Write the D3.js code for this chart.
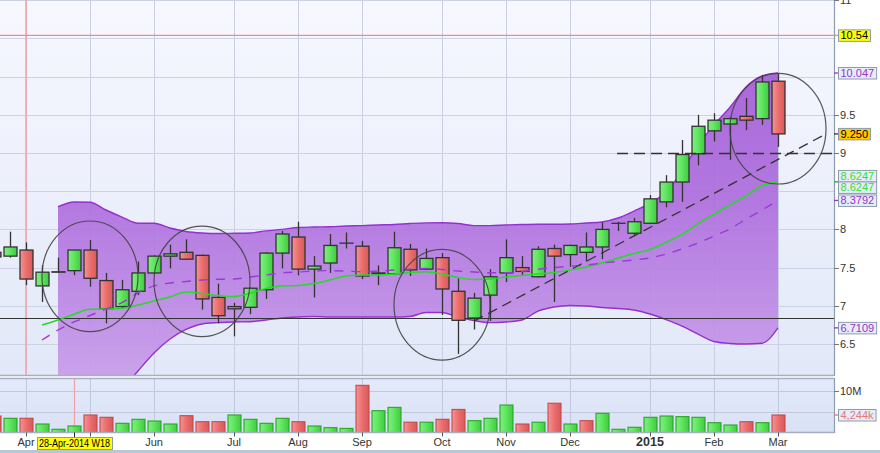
<!DOCTYPE html>
<html><head><meta charset="utf-8">
<script src="https://cdn.jsdelivr.net/npm/d3@7/dist/d3.min.js"></script>
<style>
html,body{margin:0;padding:0;background:#fff;}
svg{display:block;}
text{font-family:"Liberation Sans",Arial,Helvetica,sans-serif;}
</style></head><body>
<svg id="chart" width="880" height="453"></svg>
<script>
// ---------------- DATA ----------------
const weeks = ["2014-03-24","2014-03-31","2014-04-07","2014-04-14","2014-04-21","2014-04-28","2014-05-05","2014-05-12","2014-05-19","2014-05-26",
"2014-06-02","2014-06-09","2014-06-16","2014-06-23","2014-06-30","2014-07-07","2014-07-14","2014-07-21","2014-07-28","2014-08-04",
"2014-08-11","2014-08-18","2014-08-25","2014-09-01","2014-09-08","2014-09-15","2014-09-22","2014-09-29","2014-10-06","2014-10-13",
"2014-10-20","2014-10-27","2014-11-03","2014-11-10","2014-11-17","2014-11-24","2014-12-01","2014-12-08","2014-12-15","2014-12-22",
"2014-12-29","2015-01-05","2015-01-12","2015-01-19","2015-01-26","2015-02-02","2015-02-09","2015-02-16","2015-02-23","2015-03-02"];
const open  = [7.70,7.65,7.73,7.26,7.44,7.46,7.73,7.33,6.99,7.19, 7.43,7.65,7.70,7.66,7.11,6.99,6.98,7.21,7.69,7.90, 7.48,7.56,7.82,7.78,7.42,7.42,7.74,7.48,7.63,7.19, 6.84,7.14,7.43,7.50,7.38,7.75,7.67,7.70,7.77,8.08, 7.95,8.08,8.36,8.62,8.99,9.29,9.38,9.48,9.45,9.94];
const high  = [7.75,7.97,7.83,7.53,7.63,7.73,7.86,7.43,7.34,7.58, 7.66,7.80,7.87,7.67,7.29,7.04,7.24,7.70,7.98,8.10, 7.65,7.94,7.96,7.85,7.53,7.97,7.81,7.75,7.69,7.36, 7.17,7.48,7.87,7.65,7.78,7.80,7.80,7.96,8.09,8.10, 8.15,8.45,8.71,9.17,9.50,9.52,9.47,9.72,10.02,10.04];
const low   = [7.60,7.63,7.27,7.05,7.43,7.40,7.25,6.77,6.96,7.14, 7.41,7.49,7.60,6.95,6.77,6.60,6.89,7.09,7.49,7.40, 7.11,7.43,7.75,7.35,7.27,7.41,7.39,7.47,6.88,6.37, 6.69,6.80,7.31,7.39,7.37,7.05,7.51,7.58,7.61,7.98, 7.91,8.08,8.29,8.36,8.84,9.15,8.91,9.30,9.37,9.08];
const close = [7.64,7.77,7.35,7.44,7.445,7.73,7.36,6.96,7.21,7.43, 7.65,7.68,7.61,7.09,6.87,6.96,7.23,7.69,7.94,7.48, 7.52,7.79,7.82,7.39,7.43,7.76,7.47,7.62,7.22,6.81, 7.10,7.38,7.63,7.45,7.74,7.65,7.79,7.77,8.00,8.08, 8.10,8.40,8.62,8.98,9.35,9.43,9.45,9.43,9.93,9.25];
const volumeM = [4.0,3.45,3.45,2.06,0.78,1.58,4.25,3.69,2.23,3.2, 2.79,2.06,4.08,2.62,2.62,4.25,3.2,2.23,3.45,2.62, 1.58,1.17,0.99,11.45,5.3,6.1,2.5,2.5,3.2,5.6, 2.87,3.45,6.67,2.06,2.5,7.1,2.06,2.87,4.66,0.78, 1.27,3.69,4.0,3.85,3.69,2.38,1.82,2.62,2.38,4.244];
const maGreen = [null,null,null,6.749,6.814,6.89,6.954,6.958,6.967,7.01, 7.063,7.115,7.18,7.16,7.135,7.12,7.164,7.226,7.26,7.266, 7.292,7.338,7.39,7.403,7.403,7.416,7.436,7.446,7.416,7.37, 7.344,7.35,7.377,7.397,7.416,7.436,7.467,7.507,7.56,7.625, 7.685,7.735,7.83,7.935,8.075,8.20,8.32,8.44,8.575,8.6247];
const maPurple = [null,null,null,6.552,6.683,6.788,6.873,6.958,7.043,7.168, 7.26,7.298,7.318,7.338,7.347,7.35,7.377,7.403,7.43,7.442, 7.455,7.46,7.455,7.446,7.455,7.468,7.48,7.49,7.475,7.455, 7.442,7.433,7.433,7.45,7.478,7.50,7.52,7.533,7.56,7.58, 7.60,7.626,7.678,7.744,7.822,7.914,8.005,8.136,8.254,8.3792];
const bandUpper = [null,null,null,null,8.297,8.359,8.355,8.254,8.162,8.08, 8.08,8.018,7.973,7.953,7.946,7.949,7.953,7.98,8.0,8.025, 8.031,8.035,8.045,8.05,8.058,8.064,8.077,8.086,8.088,8.077, 8.05,8.05,8.058,8.064,8.067,8.067,8.07,8.084,8.097,8.149, 8.24,8.34,8.49,8.76,9.105,9.366,9.60,9.864,10.008,10.047];
const bandLower = [null,null,null,null,5.0,5.1,5.3,5.6,5.9,6.147, 6.382,6.565,6.69,6.762,6.78,6.788,6.792,6.814,6.84,6.853, 6.86,6.853,6.853,6.853,6.853,6.853,6.86,6.912,6.912,6.853, 6.807,6.78,6.788,6.814,6.93,6.984,7.004,6.997,6.978,6.965, 6.945,6.893,6.82,6.735,6.63,6.533,6.507,6.50,6.51,6.7109];

const monthTickDates  = ["2014-04-07","2014-05-05","2014-06-02","2014-07-07","2014-08-04","2014-09-01","2014-10-06","2014-11-03","2014-12-01","2015-01-05","2015-02-02","2015-03-02"];
const monthTickLabels = ["Apr","","Jun","Jul","Aug","Sep","Oct","Nov","Dec","2015","Feb","Mar"]; // May hidden under cursor label
const priceGridValues = [6.5,7,7.5,8,8.5,9,9.5,10,10.5,11];
const priceTickLabels = [6.5,7,7.5,8,9,9.5,11];
const volumeGridValues = [5,10];
const volumeTickLabels = ["10M"];

const supportLevel = 6.844;
const alertLevel = 10.54;
const targetLevel = 9.0, targetStart = "2014-12-22";
const trendStart = {d:"2014-10-20", v:6.80}, trendEnd = {d:"2015-03-23", v:9.25};
const circleDates  = ["2014-05-05","2014-06-23","2014-10-06","2015-03-02"];
const circlePrices = [7.386,7.32,7.014,9.318];
const circleHalfDays = 21, circleHalfPrice = 0.724;
const cursorMainDate = "2014-04-07", cursorVolDate = "2014-04-28", cursorLabel = "28-Apr-2014 W18";
const priceLabels = [
  {v:10.54,  t:"10.54",  bg:"#ffff00", fg:"#000",    tick:"#f08a8a"},
  {v:10.047, t:"10.047", bg:"#e7ecfa", fg:"#9933cc", tick:"#9933cc"},
  {v:9.25,   t:"9.250",  bg:"#ffc800", fg:"#000",    tick:"#333"},
  {v:8.6247, t:"8.6247", bg:"#e7ecfa", fg:"#33e033", tick:"#22cc22"},
  {v:8.6247, t:"8.6247", bg:"#e7ecfa", fg:"#33e033", tick:"#22cc22"},
  {v:8.3792, t:"8.3792", bg:"#e7ecfa", fg:"#9933cc", tick:"#9933cc"},
  {v:6.7109, t:"6.7109", bg:"#e7ecfa", fg:"#9933cc", tick:"#9933cc"}
];
const volumeLabel = {v:4.244, t:"4,244k", bg:"#e7ecfa", fg:"#e07878"};

// ---------------- CHART ----------------
const parse = d3.utcParse("%Y-%m-%d");
const dts = weeks.map(parse);
const svg = d3.select("#chart");
const plotR = 834, mainBot = 375, volTop = 378.5, volBot = 432.5;

const x = d3.scaleUtc().domain([new Date(Date.UTC(2014,2,26,15)), new Date(Date.UTC(2015,2,26,12))]).range([0, plotR]);
const y = d3.scaleLinear().domain([6.094, 11.003]).range([mainBot, 0]);
const vy = d3.scaleLinear().domain([0, 10]).range([volBot, 391.3]);

const defs = svg.append("defs");
function lg(id, x2, y2, stops){
  const g = defs.append("linearGradient").attr("id", id).attr("x1",0).attr("y1",0).attr("x2",x2).attr("y2",y2);
  stops.forEach(s => g.append("stop").attr("offset", s[0]).attr("stop-color", s[1]));
  return g;
}
lg("bgMain", 0, 1, [[0,"#f7f8ff"],[1,"#e2e8f8"]]);
lg("bgVol", 0, 1, [[0,"#e4eafa"],[1,"#d9e1f6"]]);
lg("gUp", 1, 0, [[0,"#7ef07e"],[0.45,"#62e562"],[1,"#3ccc3c"]]);
lg("gDn", 1, 0, [[0,"#f59494"],[0.45,"#ec7070"],[1,"#d85858"]]);
const bandGrad = defs.append("linearGradient").attr("id","gBand").attr("gradientUnits","userSpaceOnUse")
  .attr("x1",0).attr("y1",0).attr("x2",0).attr("y2",mainBot);
bandGrad.append("stop").attr("offset",0).attr("stop-color","#9c4fd2");
bandGrad.append("stop").attr("offset",0.55).attr("stop-color","#ad6cdd");
bandGrad.append("stop").attr("offset",1).attr("stop-color","#c79ae9");
defs.append("clipPath").attr("id","clipMain").append("rect").attr("x",0).attr("y",0).attr("width",plotR).attr("height",mainBot);
defs.append("clipPath").attr("id","clipVol").append("rect").attr("x",0).attr("y",volTop).attr("width",plotR).attr("height",volBot-volTop);

// backgrounds
svg.append("rect").attr("x",0).attr("y",0).attr("width",plotR).attr("height",mainBot).attr("fill","url(#bgMain)");
svg.append("rect").attr("x",0).attr("y",volTop).attr("width",plotR).attr("height",volBot-volTop).attr("fill","url(#bgVol)");

const main = svg.append("g").attr("clip-path","url(#clipMain)");
const vol = svg.append("g").attr("clip-path","url(#clipVol)");

// gridlines
const mDates = monthTickDates.map(parse);
main.selectAll("line.vg").data(mDates).join("line").attr("x1",d=>x(d)+0.5).attr("x2",d=>x(d)+0.5).attr("y1",0).attr("y2",mainBot)
  .attr("stroke","#c9cee2").attr("stroke-width",1);
main.selectAll("line.hg").data(priceGridValues).join("line").attr("x1",0).attr("x2",plotR).attr("y1",d=>Math.round(y(d))+0.5).attr("y2",d=>Math.round(y(d))+0.5)
  .attr("stroke","#cdd1e4").attr("stroke-width",1);
vol.selectAll("line.vg").data(mDates).join("line").attr("x1",d=>x(d)+0.5).attr("x2",d=>x(d)+0.5).attr("y1",volTop).attr("y2",volBot)
  .attr("stroke","#c2c9df").attr("stroke-width",1);
vol.selectAll("line.hg").data(volumeGridValues).join("line").attr("x1",0).attr("x2",plotR).attr("y1",d=>Math.round(vy(d))+0.5).attr("y2",d=>Math.round(vy(d))+0.5)
  .attr("stroke","#c2c9df").attr("stroke-width",1);

// cursor / alert lines
main.append("line").attr("x1",x(parse(cursorMainDate))).attr("x2",x(parse(cursorMainDate))).attr("y1",0).attr("y2",mainBot)
  .attr("stroke","#f3a0a4").attr("stroke-width",1.5);
main.append("line").attr("x1",0).attr("x2",plotR).attr("y1",y(alertLevel)).attr("y2",y(alertLevel))
  .attr("stroke","#f08a8a").attr("stroke-width",1.2);
vol.append("line").attr("x1",x(parse(cursorVolDate))+0.5).attr("x2",x(parse(cursorVolDate))+0.5).attr("y1",volTop).attr("y2",volBot)
  .attr("stroke","#f3a0a4").attr("stroke-width",1.2);

// band
const bandIdx = d3.range(dts.length).filter(i => bandUpper[i] != null);
main.append("path").datum(bandIdx)
  .attr("d", d3.area().x(i=>x(dts[i])).y0(i=>y(bandLower[i])).y1(i=>y(bandUpper[i])).curve(d3.curveMonotoneX))
  .attr("fill","url(#gBand)").attr("fill-opacity",0.9);
[bandUpper, bandLower].forEach(arr=>{
  main.append("path").datum(bandIdx)
    .attr("d", d3.line().x(i=>x(dts[i])).y(i=>y(arr[i])).curve(d3.curveMonotoneX))
    .attr("fill","none").attr("stroke","#9530d0").attr("stroke-width",1.4);
});

// support line
main.append("line").attr("x1",0).attr("x2",plotR).attr("y1",Math.round(y(supportLevel))+0.5).attr("y2",Math.round(y(supportLevel))+0.5)
  .attr("stroke","#333").attr("stroke-width",1.2);

// candles
const idx = d3.range(dts.length);
const cg = main.append("g");
cg.selectAll("line.wick").data(idx).join("line")
  .attr("x1",i=>x(dts[i])+0.5).attr("x2",i=>x(dts[i])+0.5)
  .attr("y1",i=>y(high[i])).attr("y2",i=>y(low[i]))
  .attr("stroke","#333").attr("stroke-width",1.3);
cg.selectAll("rect.body").data(idx).join("rect")
  .attr("x",i=>x(dts[i])-6)
  .attr("width",13)
  .attr("y",i=>y(Math.max(open[i],close[i])))
  .attr("height",i=>Math.max(0.01, Math.abs(y(open[i])-y(close[i]))))
  .attr("fill",i=>close[i]>=open[i]?"url(#gUp)":"url(#gDn)")
  .attr("stroke","#333").attr("stroke-width",1.3);

// moving averages
const gIdx = idx.filter(i=>maGreen[i]!=null);
main.append("path").datum(gIdx)
  .attr("d", d3.line().x(i=>x(dts[i])).y(i=>y(maGreen[i])).curve(d3.curveMonotoneX))
  .attr("fill","none").attr("stroke","#22dd22").attr("stroke-width",1.5);
const pIdx = idx.filter(i=>maPurple[i]!=null);
main.append("path").datum(pIdx)
  .attr("d", d3.line().x(i=>x(dts[i])).y(i=>y(maPurple[i])).curve(d3.curveMonotoneX))
  .attr("fill","none").attr("stroke","#9a3ad8").attr("stroke-width",1.4).attr("stroke-dasharray","9,8");

// trend line and target line
main.append("line").attr("x1",x(parse(trendStart.d))).attr("y1",y(trendStart.v)).attr("x2",x(parse(trendEnd.d))).attr("y2",y(trendEnd.v))
  .attr("stroke","#333").attr("stroke-width",1.3).attr("stroke-dasharray","10,6");
svg.append("line").attr("x1",x(parse(targetStart))-1).attr("x2",plotR+4).attr("y1",Math.round(y(targetLevel))+0.5).attr("y2",Math.round(y(targetLevel))+0.5)
  .attr("stroke","#333").attr("stroke-width",1.3).attr("stroke-dasharray","11,6");

// circles
const cDates = circleDates.map(parse);
main.selectAll("ellipse").data(d3.range(cDates.length)).join("ellipse")
  .attr("cx",k=>x(cDates[k])).attr("cy",k=>y(circlePrices[k]))
  .attr("rx",k=>x(d3.utcDay.offset(cDates[k],circleHalfDays))-x(cDates[k]))
  .attr("ry",k=>y(circlePrices[k]-circleHalfPrice)-y(circlePrices[k]))
  .attr("fill","none").attr("stroke","#444").attr("stroke-width",1.2).attr("stroke-opacity",0.9);

// volume bars
const isUp = i => i===0 ? close[i]>=open[i] : close[i]>=close[i-1];
vol.selectAll("rect.vb").data(idx).join("rect")
  .attr("x",i=>x(dts[i])-6).attr("width",13)
  .attr("y",i=>vy(volumeM[i])).attr("height",i=>vy(0)-vy(volumeM[i]))
  .attr("fill",i=>isUp(i)?"url(#gUp)":"url(#gDn)")
  .attr("stroke",i=>isUp(i)?"#2aa52a":"#c24c4c")
  .attr("stroke-width",1.1);

// panel borders
svg.append("line").attr("x1",0).attr("x2",plotR).attr("y1",mainBot+0.5).attr("y2",mainBot+0.5).attr("stroke","#a4b0c2").attr("stroke-width",1.5);
svg.append("line").attr("x1",0).attr("x2",plotR).attr("y1",volTop).attr("y2",volTop).attr("stroke","#a4b0c2").attr("stroke-width",1.5);
svg.append("line").attr("x1",0).attr("x2",plotR).attr("y1",volBot).attr("y2",volBot).attr("stroke","#a4b0c2").attr("stroke-width",1.5);
svg.append("line").attr("x1",plotR+0.5).attr("x2",plotR+0.5).attr("y1",0).attr("y2",mainBot+1).attr("stroke","#8d9cae").attr("stroke-width",1.2);
svg.append("line").attr("x1",plotR+0.5).attr("x2",plotR+0.5).attr("y1",volTop-0.5).attr("y2",volBot+0.5).attr("stroke","#8d9cae").attr("stroke-width",1.2);
svg.append("rect").attr("x",0).attr("y",450).attr("width",880).attr("height",3).attr("fill","#b6c7d7");

// y axis ticks & labels
const ya = svg.append("g");
ya.selectAll("line").data(priceTickLabels).join("line").attr("x1",plotR).attr("x2",plotR+5)
  .attr("y1",d=>Math.round(y(d))+0.5).attr("y2",d=>Math.round(y(d))+0.5).attr("stroke","#777");
ya.selectAll("text").data(priceTickLabels).join("text").attr("x",plotR+6).attr("y",d=>y(d)+4)
  .attr("font-size",11).attr("fill","#333").text(d=>d);
svg.append("line").attr("x1",plotR).attr("x2",plotR+5).attr("y1",Math.round(vy(10))+0.5).attr("y2",Math.round(vy(10))+0.5).attr("stroke","#777");
svg.append("text").attr("x",plotR+6).attr("y",vy(10)+4).attr("font-size",11).attr("fill","#333").text(volumeTickLabels[0]);

// value labels with overlap resolution
const lbl = priceLabels.map(d=>({...d, yv:y(d.v), yl:y(d.v)}));
lbl.sort((a,b)=>a.yv-b.yv);
for (let it=0; it<20; it++){
  for (let k=1;k<lbl.length;k++){
    const gap = lbl[k].yl - lbl[k-1].yl;
    if (gap < 11.5){ const s=(11.5-gap)/2; lbl[k].yl+=s; lbl[k-1].yl-=s; }
  }
}
function drawLabel(d, yv, yl){
  svg.append("line").attr("x1",plotR).attr("x2",plotR+4).attr("y1",yv).attr("y2",yv).attr("stroke",d.tick||d.fg).attr("stroke-width",1.3);
  const g = svg.append("g");
  const r = g.append("rect").attr("x",plotR+4.5).attr("y",yl-5.5).attr("height",11.5).attr("fill",d.bg).attr("stroke","#8c9caf").attr("stroke-width",1);
  const t = g.append("text").attr("x",plotR+6.5).attr("y",yl+4).attr("font-size",11).attr("fill",d.fg).text(d.t);
  r.attr("width", t.node().getComputedTextLength()+4.5);
}
lbl.forEach(d=>drawLabel(d, d.yv, d.yl));
drawLabel({...volumeLabel, tick:volumeLabel.fg}, vy(volumeLabel.v), vy(volumeLabel.v));

// x axis
const xa = svg.append("g");
xa.selectAll("line").data(mDates).join("line").attr("x1",d=>x(d)+0.5).attr("x2",d=>x(d)+0.5).attr("y1",volBot).attr("y2",volBot+4).attr("stroke","#555");
xa.selectAll("text").data(d3.range(mDates.length).filter(k=>monthTickLabels[k]!=="")).join("text")
  .attr("x",k=>x(mDates[k])).attr("y",446).attr("text-anchor","middle")
  .attr("font-size",k=>monthTickLabels[k]==="2015"?12.5:11)
  .attr("font-weight",k=>monthTickLabels[k]==="2015"?"bold":"normal")
  .attr("fill","#333").text(k=>monthTickLabels[k]);
// cursor date label
const cx = x(parse(cursorVolDate));
svg.append("line").attr("x1",cx+0.5).attr("x2",cx+0.5).attr("y1",volBot).attr("y2",437.5).attr("stroke","#222");
const cl = svg.append("g");
cl.append("rect").attr("x",37.5).attr("y",437.5).attr("width",75).attr("height",12).attr("fill","#ffff00").attr("stroke","#8c9caf");
cl.append("text").attr("x",cx+0.5).attr("y",447).attr("text-anchor","middle").attr("font-size",10.5)
  .attr("textLength",71).attr("lengthAdjust","spacingAndGlyphs").attr("fill","#000").text(cursorLabel);
</script>
</body></html>
